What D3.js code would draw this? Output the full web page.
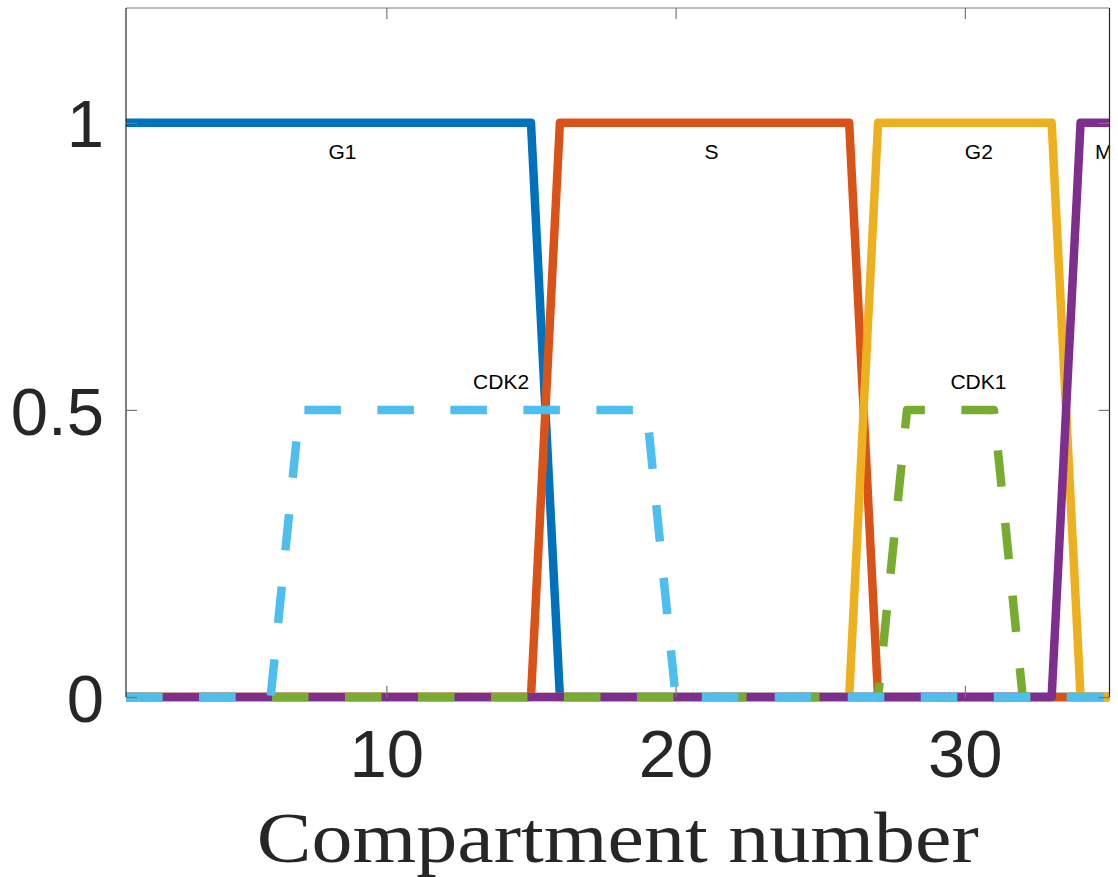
<!DOCTYPE html>
<html>
<head>
<meta charset="utf-8">
<script src="https://cdn.jsdelivr.net/npm/d3@7"></script>
<style>
  body { margin: 0; background: #fff; }
  svg { display: block; }
</style>
</head>
<body>
<div id="chart"></div>
<script>
// Date
var compartments = d3.range(1, 36);          // 1..35
var xTicks = [10, 20, 30];
var yTicks = [0, 0.5, 1];

// faze (0/1) pe compartimente
var g1Vals  = [1,1,1,1,1,1,1,1,1,1,1,1,1,1,1,0,0,0,0,0,0,0,0,0,0,0,0,0,0,0,0,0,0,0,0];
var sVals   = [0,0,0,0,0,0,0,0,0,0,0,0,0,0,0,1,1,1,1,1,1,1,1,1,1,1,0,0,0,0,0,0,0,0,0];
var g2Vals  = [0,0,0,0,0,0,0,0,0,0,0,0,0,0,0,0,0,0,0,0,0,0,0,0,0,0,1,1,1,1,1,1,1,0,0];
var mVals   = [0,0,0,0,0,0,0,0,0,0,0,0,0,0,0,0,0,0,0,0,0,0,0,0,0,0,0,0,0,0,0,0,0,1,1];
var cdk1Vals = [0,0,0,0,0,0,0,0,0,0,0,0,0,0,0,0,0,0,0,0,0,0,0,0,0,0,0,0.5,0.5,0.5,0.5,0,0,0,0];
var cdk2Vals = [0,0,0,0,0,0,0.5,0.5,0.5,0.5,0.5,0.5,0.5,0.5,0.5,0.5,0.5,0.5,0.5,0,0,0,0,0,0,0,0,0,0,0,0,0,0,0,0];

var seriesNames  = ["G1", "S", "G2", "M", "CDK1", "CDK2"];
var seriesVals   = [g1Vals, sVals, g2Vals, mVals, cdk1Vals, cdk2Vals];
var seriesColors = ["#0072BD", "#D95319", "#EDB120", "#7E2F8E", "#77AC30", "#4DBEEE"];
var seriesDashed = [false, false, false, false, true, true];

// etichete text (pozitie in coordonate de date)
var labelText = ["G1", "S", "G2", "M", "CDK2", "CDK1"];
var labelX    = [8, 21, 30, 34.5, 13, 29.5];
var labelY    = [0.95, 0.95, 0.95, 0.95, 0.55, 0.55];

var svgWidth = 1118;
var svgHeight = 877;
var margin = { top: 8, right: 8, bottom: 180, left: 126 };
var width = 1109.5 - margin.left;
var height = 697 - margin.top;

var svg = d3.select("#chart")
    .append("svg")
    .attr("width", svgWidth)
    .attr("height", svgHeight);

var g = svg.append("g")
    .attr("transform", "translate(" + margin.left + "," + margin.top + ")");

var x = d3.scaleLinear().domain([1, 35]).range([0, width]);
var y = d3.scaleLinear().domain([0, 1.2]).range([height, 0]);

svg.append("defs").append("clipPath")
    .attr("id", "clip")
    .append("rect")
    .attr("x", 0).attr("y", 0)
    .attr("width", width).attr("height", height + 6);

// liniile
var line = d3.line()
    .x(function (d, i) { return x(compartments[i]); })
    .y(function (d) { return y(d); });

var plot = g.append("g").attr("clip-path", "url(#clip)");

seriesVals.forEach(function (vals, k) {
    plot.append("path")
        .datum(vals)
        .attr("fill", "none")
        .attr("stroke", seriesColors[k])
        .attr("stroke-width", 8.5)
        .attr("stroke-linejoin", "round")
        .attr("stroke-dasharray", seriesDashed[k] ? "36.5,36.5" : null)
        .attr("d", line);
});

// etichete
labelText.forEach(function (t, i) {
    plot.append("text")
        .attr("x", x(labelX[i]))
        .attr("y", y(labelY[i]))
        .attr("dy", "0.35em")
        .attr("font-family", "'Liberation Sans', Arial, sans-serif")
        .attr("font-size", 21)
        .attr("fill", "#000")
        .text(t);
});

// cadrul
g.append("line").attr("x1", 0).attr("x2", width).attr("y1", 0).attr("y2", 0)
    .attr("stroke", "#7a7a7a").attr("stroke-width", 1.2);
g.append("line").attr("x1", width).attr("x2", width).attr("y1", 0).attr("y2", height)
    .attr("stroke", "#262626").attr("stroke-width", 1.2);
g.append("line").attr("x1", 0).attr("x2", 0).attr("y1", 0).attr("y2", height)
    .attr("stroke", "#262626").attr("stroke-width", 1.2);

// axele
var xAxis = g.append("g")
    .attr("transform", "translate(0," + height + ")")
    .call(d3.axisBottom(x).tickValues(xTicks).tickSizeInner(-11).tickSizeOuter(0).tickPadding(59));
var xTop = g.append("g")
    .call(d3.axisTop(x).tickValues(xTicks).tickSizeInner(-11).tickSizeOuter(0).tickFormat(""));
var yAxis = g.append("g")
    .call(d3.axisLeft(y).tickValues(yTicks).tickSizeInner(-11).tickSizeOuter(0).tickPadding(22)
        .tickFormat(function (d) { return d; }));
var yRight = g.append("g")
    .attr("transform", "translate(" + width + ",0)")
    .call(d3.axisRight(y).tickValues(yTicks).tickSizeInner(-11).tickSizeOuter(0).tickFormat(""));

[xAxis, xTop, yAxis, yRight].forEach(function (a) {
    a.select(".domain").remove();
    a.selectAll(".tick line").attr("stroke", "#777").attr("stroke-width", 1.2);
    a.selectAll(".tick text")
        .attr("font-family", "'Liberation Sans', Arial, sans-serif")
        .attr("font-size", 67)
        .attr("fill", "#262626");
});
xAxis.selectAll(".tick text").attr("dy", "0.32em");
yAxis.selectAll(".tick text").attr("dy", "0.36em");

// titlul axei X
svg.append("text")
    .attr("x", margin.left + width / 2)
    .attr("y", 862)
    .attr("text-anchor", "middle")
    .attr("font-family", "'Liberation Serif', 'DejaVu Serif', serif")
    .attr("font-size", 72)
    .attr("fill", "#262626")
    .attr("textLength", 722)
    .attr("lengthAdjust", "spacingAndGlyphs")
    .text("Compartment number");
</script>
</body>
</html>
